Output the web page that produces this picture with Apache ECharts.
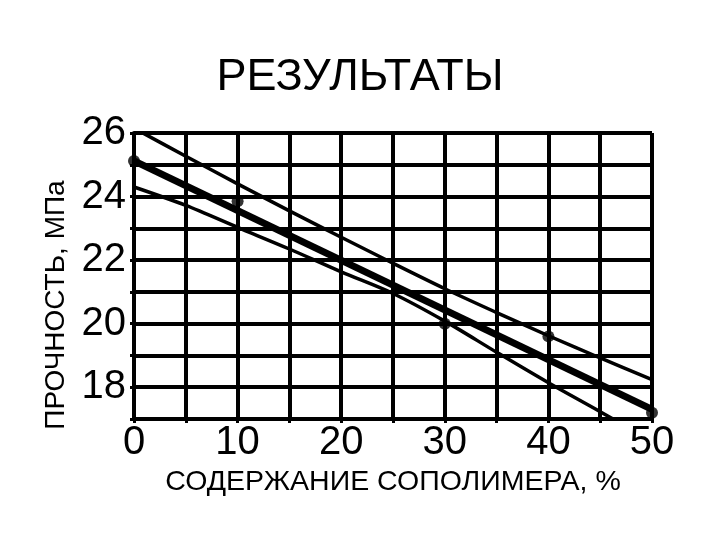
<!DOCTYPE html>
<html>
<head>
<meta charset="utf-8">
<script src="https://cdn.jsdelivr.net/npm/echarts@6/dist/echarts.min.js"></script>
<style>html,body{margin:0;padding:0;background:#fff}#c{width:720px;height:540px}</style>
</head>
<body>
<div id="c"></div>
<script>
const titleText = 'РЕЗУЛЬТАТЫ';
const xName = 'СОДЕРЖАНИЕ СОПОЛИМЕРА, %';
const yName = 'ПРОЧНОСТЬ, МПа';
const bandX = [0, 5, 10, 15, 20, 25, 30, 35, 40, 45, 50];
const upperY = [26.15, 25.27, 24.4, 23.55, 22.72, 21.9, 21.1, 20.35, 19.62, 18.92, 18.24];
const lowerY = [24.3, 23.72, 23.03, 22.35, 21.63, 20.95, 20.08, 19.1, 18.14, 17.23, 16.3];
const fitX = [0, 50];
const fitY = [25.12, 17.3];
const pointX = [0, 10, 30, 40, 50];
const pointY = [25.12, 23.85, 20.0, 19.6, 17.2];

const sans = "'Liberation Sans', Arial, sans-serif";
const pair = (xs, ys) => xs.map((x, i) => [x, ys[i]]);

const chart = echarts.init(document.getElementById('c'));
chart.setOption({
  animation: false,
  backgroundColor: '#fff',
  title: {
    text: titleText, left: 'center', top: 50,
    textStyle: { fontFamily: sans, fontSize: 45, fontWeight: 'normal', color: '#000' }
  },
  grid: { left: 134, right: 68, top: 133, bottom: 121 },
  xAxis: {
    type: 'value', min: 0, max: 50, interval: 5,
    name: xName, nameLocation: 'middle', nameGap: 40,
    nameTextStyle: { fontFamily: sans, fontSize: 28.5, color: '#000' },
    axisLine: { show: true, lineStyle: { color: '#000', width: 4 } },
    axisTick: { show: true, length: 4, lineStyle: { color: '#000', width: 3 } },
    axisLabel: {
      margin: 4, color: '#000', fontFamily: sans, fontSize: 40,
      formatter: v => (v % 10 === 0 ? String(v) : '')
    },
    splitLine: { show: true, lineStyle: { color: '#000', width: 4 } }
  },
  yAxis: {
    type: 'value', min: 17, max: 26, interval: 1,
    name: yName, nameLocation: 'middle', nameGap: 58, nameRotate: 90,
    nameTextStyle: { fontFamily: sans, fontSize: 28, color: '#000', padding: [0, 58, 0, 0] },
    axisLine: { show: true, lineStyle: { color: '#000', width: 4 } },
    axisTick: { show: true, length: 4, lineStyle: { color: '#000', width: 3 } },
    axisLabel: {
      margin: 8, color: '#000', fontFamily: sans, fontSize: 40,
      formatter: v => (v % 2 === 0 ? String(v) : '')
    },
    splitLine: { show: true, lineStyle: { color: '#000', width: 4 } }
  },
  series: [
    { type: 'line', data: pair(bandX, upperY), showSymbol: false, smooth: 0.3,
      lineStyle: { color: '#000', width: 3.5 }, clip: true },
    { type: 'line', data: pair(bandX, lowerY), showSymbol: false, smooth: 0.3,
      lineStyle: { color: '#000', width: 3.5 }, clip: true },
    { type: 'line', data: pair(fitX, fitY), showSymbol: false,
      lineStyle: { color: '#000', width: 7 }, clip: true },
    { type: 'scatter', data: pair(pointX, pointY), symbol: 'circle', symbolSize: 12,
      itemStyle: { color: '#000' }, clip: false }
  ]
});
</script>
</body>
</html>
